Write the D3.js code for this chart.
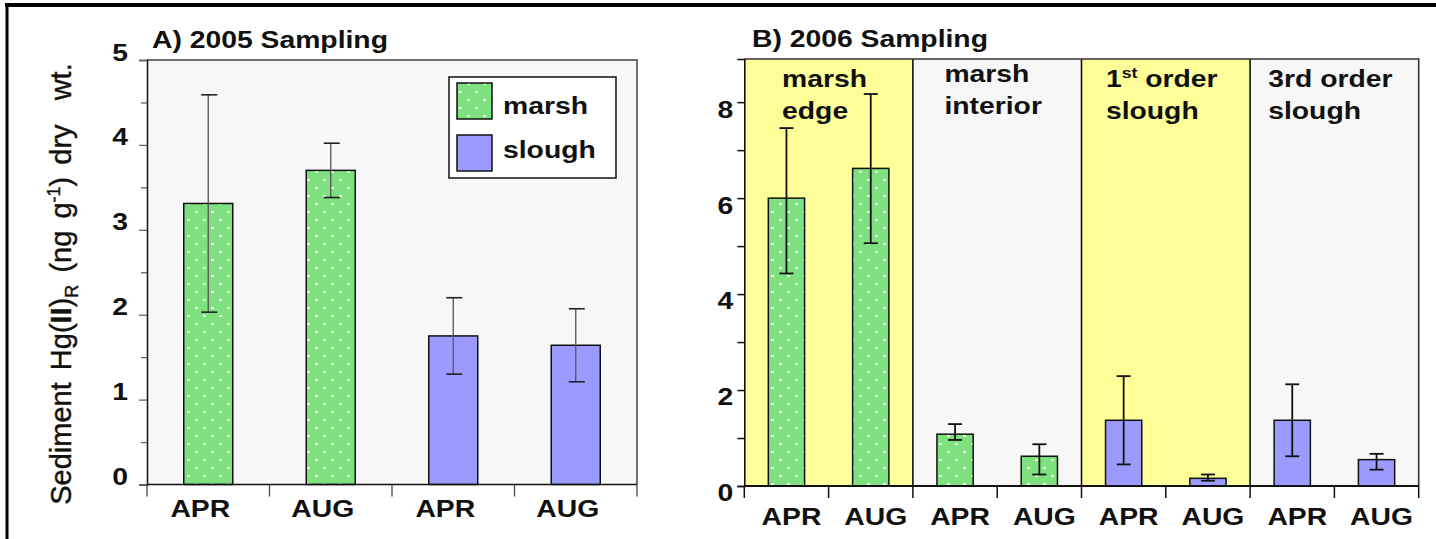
<!DOCTYPE html>
<html>
<head>
<meta charset="utf-8">
<script src="https://cdn.jsdelivr.net/npm/d3@7"></script>
<style>
  body { margin: 0; background: #fff; }
  svg { display: block; font-family: Arial, "Liberation Sans", sans-serif; }
  text { white-space: pre; }
</style>
</head>
<body>
<svg id="chart" width="1436" height="539"></svg>
<script>
// ---- data ----
const monthsA = ['APR', 'AUG', 'APR', 'AUG'];
const habitatA = ['marsh', 'marsh', 'slough', 'slough'];
const meanA = [3.31, 3.70, 1.75, 1.64];
const sdA = [1.28, 0.32, 0.45, 0.43];
const yTicksA = [0, 1, 2, 3, 4, 5];
const yMinorA = [0.5, 1.5, 2.5, 3.5, 4.5];

const monthsB = ['APR', 'AUG', 'APR', 'AUG', 'APR', 'AUG', 'APR', 'AUG'];
const habitatB = ['marsh', 'marsh', 'marsh', 'marsh', 'slough', 'slough', 'slough', 'slough'];
const meanB = [6.00, 6.62, 1.08, 0.62, 1.37, 0.16, 1.37, 0.55];
const lowB = [4.43, 5.06, 0.96, 0.24, 0.45, 0.11, 0.62, 0.34];
const highB = [7.46, 8.17, 1.29, 0.87, 2.29, 0.24, 2.12, 0.67];
const sectionsB = [['marsh', 'edge'], ['marsh', 'interior'], ['1{st} order', 'slough'], ['3rd order', 'slough']];
const yTicksB = [0, 2, 4, 6, 8];
const yMinorB = [1, 3, 5, 7];

const legendItems = ['marsh', 'slough'];

// ---- styling constants ----
const SX = 1.18;            // the figure is stretched horizontally
const FONT = 24;
const colors = { marsh: '#7ee07e', slough: '#9a9aff' };
const yellow = '#ffff99';
const panelBg = '#f7f7f7';

const svg = d3.select('#chart');

// green fill with white dot texture
const defs = svg.append('defs');
const pat = defs.append('pattern')
  .attr('id', 'dots')
  .attr('patternUnits', 'userSpaceOnUse')
  .attr('width', 16)
  .attr('height', 16);
pat.append('rect').attr('width', 16).attr('height', 16).attr('fill', colors.marsh);
[[0, 0], [8, 8]].forEach(([x, y]) => {
  pat.append('rect').attr('x', x + 3).attr('y', y + 3).attr('width', 3).attr('height', 2)
    .attr('fill', '#fff').attr('opacity', 0.85);
});
const fillFor = h => h === 'marsh' ? 'url(#dots)' : colors.slough;

function stretchedText(g, x, y, str, anchor = 'start') {
  return g.append('text')
    .attr('transform', `translate(${x},${y}) scale(${SX},1)`)
    .attr('text-anchor', anchor)
    .attr('font-size', FONT)
    .attr('font-weight', 'bold')
    .attr('fill', '#111')
    .text(str);
}

// outer frame
svg.append('line').attr('x1', 5).attr('x2', 1436).attr('y1', 5).attr('y2', 5)
  .attr('stroke', '#000').attr('stroke-width', 4);
svg.append('line').attr('x1', 7).attr('x2', 7).attr('y1', 3).attr('y2', 539)
  .attr('stroke', '#000').attr('stroke-width', 3);

// ================= Panel A =================
const A = { left: 147, right: 637, top: 60, bottom: 484.5 };

const xA = d3.scaleBand()
  .domain(d3.range(monthsA.length))
  .range([A.left, A.right])
  .paddingInner(0).paddingOuter(0);
const yA = d3.scaleLinear().domain([0, 5]).range([A.bottom, A.top]);

const gA = svg.append('g');

gA.append('rect')
  .attr('x', A.left).attr('y', A.top)
  .attr('width', A.right - A.left).attr('height', A.bottom - A.top)
  .attr('fill', panelBg);
gA.append('path')
  .attr('d', `M${A.left},${A.top}H${A.right}V${A.bottom}`)
  .attr('fill', 'none').attr('stroke', '#444').attr('stroke-width', 1.5);

const bwA = xA.bandwidth() * 0.4;
gA.selectAll('.barA')
  .data(meanA)
  .enter()
  .append('rect')
  .classed('barA', true)
  .attr('x', (d, i) => xA(i) + xA.bandwidth() / 2 - bwA / 2)
  .attr('y', d => yA(d))
  .attr('width', bwA)
  .attr('height', d => yA(0) - yA(d))
  .attr('fill', (d, i) => fillFor(habitatA[i]))
  .attr('stroke', '#111')
  .attr('stroke-width', 1.5);

// error bars A (thin grey stems)
const errA = gA.selectAll('.errA')
  .data(meanA)
  .enter()
  .append('g')
  .classed('errA', true)
  .attr('transform', (d, i) => `translate(${xA(i) + xA.bandwidth() / 2},0)`);
errA.append('line')
  .attr('y1', (d, i) => yA(d - sdA[i]))
  .attr('y2', (d, i) => yA(d + sdA[i]))
  .attr('stroke', '#555').attr('stroke-width', 1.3);
errA.append('line')
  .attr('x1', -7).attr('x2', 9)
  .attr('y1', (d, i) => yA(d + sdA[i])).attr('y2', (d, i) => yA(d + sdA[i]))
  .attr('stroke', '#222').attr('stroke-width', 1.6);
errA.append('line')
  .attr('x1', -7).attr('x2', 9)
  .attr('y1', (d, i) => yA(d - sdA[i])).attr('y2', (d, i) => yA(d - sdA[i]))
  .attr('stroke', '#222').attr('stroke-width', 1.6);

// y axis A
const yAxisA = gA.append('g')
  .attr('transform', `translate(${A.left},0)`)
  .call(d3.axisLeft(yA).tickValues(yTicksA).tickSize(8).tickPadding(20).tickFormat(d3.format('d')));
yAxisA.call(g => g.select('.domain').attr('stroke', '#111').attr('stroke-width', 1.5));
yAxisA.selectAll('.tick line').attr('stroke', '#666').attr('stroke-width', 1.3);
yAxisA.selectAll('.tick text')
  .attr('font-size', FONT).attr('font-weight', 'bold').attr('fill', '#111')
  .attr('font-family', 'Arial, "Liberation Sans", sans-serif')
  .attr('dy', '0em')
  .attr('x', -19 / SX)
  .attr('transform', `scale(${SX},1)`);
gA.append('g')
  .attr('transform', `translate(${A.left},0)`)
  .call(d3.axisLeft(yA).tickValues(yMinorA).tickSize(6).tickFormat(''))
  .call(g => g.select('.domain').remove())
  .selectAll('.tick line').attr('stroke', '#666').attr('stroke-width', 1.3);

// x axis A
gA.append('line')
  .attr('x1', A.left).attr('x2', A.right).attr('y1', A.bottom).attr('y2', A.bottom)
  .attr('stroke', '#111').attr('stroke-width', 1.6);
gA.selectAll('.xtickA')
  .data(d3.range(monthsA.length + 1))
  .enter()
  .append('line')
  .attr('x1', i => A.left + i * xA.bandwidth())
  .attr('x2', i => A.left + i * xA.bandwidth())
  .attr('y1', A.bottom).attr('y2', A.bottom + 12)
  .attr('stroke', '#444').attr('stroke-width', 1.3);
monthsA.forEach((m, i) => {
  stretchedText(gA, xA(i) + xA.bandwidth() / 2 - 8, 517, m, 'middle');
});

// title A
stretchedText(gA, 152, 48, 'A) 2005 Sampling');

// legend A
const leg = gA.append('g');
leg.append('rect')
  .attr('x', 449).attr('y', 77).attr('width', 167).attr('height', 101)
  .attr('fill', '#fff').attr('stroke', '#111').attr('stroke-width', 1.5);
legendItems.forEach((h, i) => {
  leg.append('rect')
    .attr('x', 457).attr('y', 83 + i * 52).attr('width', 35).attr('height', 36)
    .attr('fill', fillFor(h)).attr('stroke', '#111').attr('stroke-width', 1.5);
  stretchedText(leg, 503, 114 + i * 44, h);
});

// y label
const yLab = svg.append('text')
  .attr('transform', 'translate(71,284) rotate(-90)')
  .attr('text-anchor', 'middle')
  .attr('font-size', 29)
  .attr('word-spacing', 4)
  .attr('fill', '#111')
  .attr('stroke', '#111')
  .attr('stroke-width', 0.4);
yLab.append('tspan').text('Sediment Hg(');
yLab.append('tspan').attr('font-weight', 'bold').text('II');
yLab.append('tspan').text(')');
yLab.append('tspan').attr('font-size', 18).attr('dy', 7).text('R');
yLab.append('tspan').attr('dy', -7).text(' (ng g');
yLab.append('tspan').attr('font-size', 18).attr('dy', -11).text('-1');
yLab.append('tspan').attr('dy', 11).text(') dry  wt.');

// ================= Panel B =================
const B = { left: 744.3, right: 1418.7, top: 59, bottom: 486 };

const xB = d3.scaleBand()
  .domain(d3.range(monthsB.length))
  .range([B.left, B.right]);
const yB = d3.scaleLinear().domain([0, 8.9]).range([B.bottom, B.top]);

const gB = svg.append('g');

// section backgrounds
sectionsB.forEach((s, k) => {
  const x0 = xB(2 * k);
  const x1 = xB(2 * k + 1) + xB.bandwidth();
  gB.append('rect')
    .attr('x', x0).attr('y', B.top)
    .attr('width', x1 - x0).attr('height', B.bottom - B.top)
    .attr('fill', k % 2 === 0 ? yellow : panelBg);
});
// dividers and border
d3.range(1, sectionsB.length).forEach(k => {
  gB.append('line')
    .attr('x1', xB(2 * k)).attr('x2', xB(2 * k))
    .attr('y1', B.top).attr('y2', B.bottom)
    .attr('stroke', '#111').attr('stroke-width', 1.6);
});
gB.append('path')
  .attr('d', `M${B.left},${B.top}H${B.right}V${B.bottom}`)
  .attr('fill', 'none').attr('stroke', '#333').attr('stroke-width', 1.6);

// section labels, left-aligned lines, block centred in section
sectionsB.forEach((lines, k) => {
  const cx = xB(2 * k + 1);
  const lg = gB.append('g');
  lines.forEach((ln, j) => {
    const t = lg.append('text')
      .attr('y', 87 + j * 32)
      .attr('font-size', FONT)
      .attr('font-weight', 'bold')
      .attr('fill', '#111');
    const m = ln.match(/^(.*?)\{(.*?)\}(.*)$/);
    if (m) {
      t.append('tspan').text(m[1]);
      t.append('tspan').attr('font-size', 15).attr('dy', -9).text(m[2]);
      t.append('tspan').attr('dy', 9).text(m[3]);
    } else {
      t.text(ln);
    }
  });
  const bb = lg.node().getBBox();
  lg.attr('transform', `translate(${cx - bb.width * SX / 2 - 4},${k === 1 ? -5 : 0}) scale(${SX},1)`);
});

const bwB = xB.bandwidth() * 0.43;
gB.selectAll('.barB')
  .data(meanB)
  .enter()
  .append('rect')
  .classed('barB', true)
  .attr('x', (d, i) => xB(i) + xB.bandwidth() / 2 - bwB / 2)
  .attr('y', d => yB(d))
  .attr('width', bwB)
  .attr('height', d => yB(0) - yB(d))
  .attr('fill', (d, i) => fillFor(habitatB[i]))
  .attr('stroke', '#111')
  .attr('stroke-width', 1.5);

const errB = gB.selectAll('.errB')
  .data(meanB)
  .enter()
  .append('g')
  .classed('errB', true)
  .attr('transform', (d, i) => `translate(${xB(i) + xB.bandwidth() / 2},0)`);
errB.append('line')
  .attr('y1', (d, i) => yB(lowB[i]))
  .attr('y2', (d, i) => yB(highB[i]))
  .attr('stroke', '#111').attr('stroke-width', 1.8);
[lowB, highB].forEach(arr => {
  errB.append('line')
    .attr('x1', -7).attr('x2', 7)
    .attr('y1', (d, i) => yB(arr[i])).attr('y2', (d, i) => yB(arr[i]))
    .attr('stroke', '#111').attr('stroke-width', 1.8);
});

// y axis B
const yAxisB = gB.append('g')
  .attr('transform', `translate(${B.left},0)`)
  .call(d3.axisLeft(yB).tickValues(yTicksB).tickSize(7).tickPadding(11).tickFormat(d3.format('d')));
yAxisB.call(g => g.select('.domain').attr('stroke', '#111').attr('stroke-width', 1.6));
yAxisB.selectAll('.tick line').attr('stroke', '#111').attr('stroke-width', 1.5);
yAxisB.selectAll('.tick text')
  .attr('font-size', FONT).attr('font-weight', 'bold').attr('fill', '#111')
  .attr('font-family', 'Arial, "Liberation Sans", sans-serif')
  .attr('dy', '0.62em')
  .attr('x', -11 / SX)
  .attr('transform', `scale(${SX},1)`);
gB.append('g')
  .attr('transform', `translate(${B.left},0)`)
  .call(d3.axisLeft(yB).tickValues(yMinorB).tickSize(7).tickFormat(''))
  .call(g => g.select('.domain').remove())
  .selectAll('.tick line').attr('stroke', '#111').attr('stroke-width', 1.5);

// x axis B
gB.append('line')
  .attr('x1', B.left).attr('x2', B.right).attr('y1', B.bottom).attr('y2', B.bottom)
  .attr('stroke', '#111').attr('stroke-width', 1.8);
gB.selectAll('.xtickB')
  .data(d3.range(monthsB.length + 1))
  .enter()
  .append('line')
  .attr('x1', i => B.left + i * xB.bandwidth())
  .attr('x2', i => B.left + i * xB.bandwidth())
  .attr('y1', B.bottom).attr('y2', B.bottom + 12)
  .attr('stroke', '#111').attr('stroke-width', 1.5);
monthsB.forEach((m, i) => {
  stretchedText(gB, xB(i) + xB.bandwidth() / 2 + 5, 525, m, 'middle');
});

stretchedText(gB, 752, 47, 'B) 2006 Sampling');
</script>
</body>
</html>
